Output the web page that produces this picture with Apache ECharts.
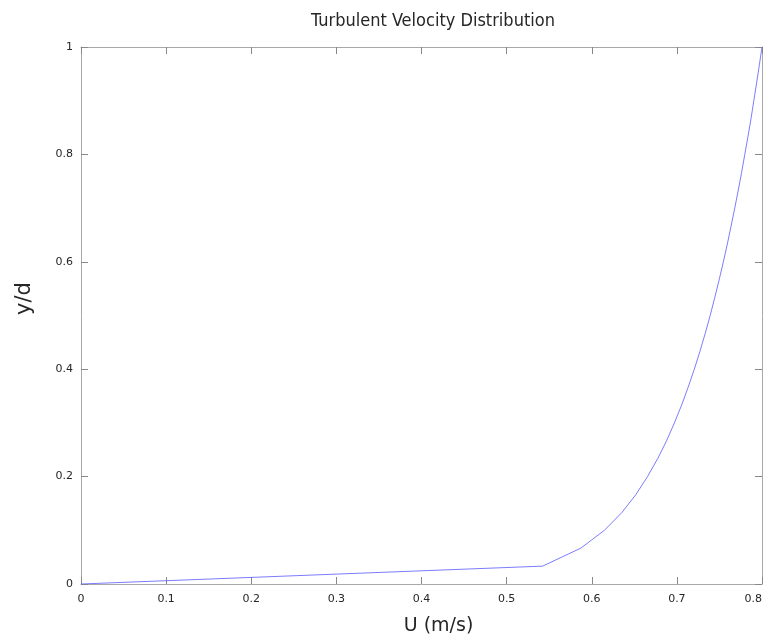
<!DOCTYPE html>
<html>
<head>
<meta charset="utf-8">
<script src="https://cdn.jsdelivr.net/npm/echarts@6/dist/echarts.min.js"></script>
<style>
  html, body { margin: 0; padding: 0; background: #fff; }
  #chart { width: 771px; height: 638px; }
</style>
</head>
<body>
<div id="chart"></div>
<script>
// y/d values (sampled every 1/30)
const yd = [0, 0.0333, 0.0667, 0.1, 0.1333, 0.1667, 0.2, 0.2333, 0.2667, 0.3, 0.3333,
  0.3667, 0.4, 0.4333, 0.4667, 0.5, 0.5333, 0.5667, 0.6, 0.6333, 0.6667,
  0.7, 0.7333, 0.7667, 0.8, 0.8333, 0.8667, 0.9, 0.9333, 0.9667, 1];
// velocity
const velocity = [0, 0.5423, 0.5871, 0.6149, 0.6355, 0.6519, 0.6655, 0.6774, 0.6879, 0.6971, 0.7056,
  0.7133, 0.7205, 0.7271, 0.7333, 0.7391, 0.7445, 0.7497, 0.7546, 0.7593, 0.7637,
  0.7680, 0.7721, 0.7761, 0.7798, 0.7835, 0.7871, 0.7904, 0.7937, 0.7969, 0.8];
const xTicks = [0, 0.1, 0.2, 0.3, 0.4, 0.5, 0.6, 0.7, 0.8];
const yTicks = [0, 0.2, 0.4, 0.6, 0.8, 1];

const font = 'DejaVu Sans';
const textColor = '#262626';
const boxColor = '#a8a8a8';

const chart = echarts.init(document.getElementById('chart'), null, { renderer: 'canvas' });

const baseX = {
  type: 'value', min: 0, max: 0.8, interval: 0.1,
  axisLine: { show: true, onZero: false, lineStyle: { color: boxColor, width: 1 } },
  axisTick: { show: true, inside: true, length: 7, lineStyle: { color: '#888' } },
  splitLine: { show: false }
};
const baseY = {
  type: 'value', min: 0, max: 1, interval: 0.2,
  axisLine: { show: true, onZero: false, lineStyle: { color: boxColor, width: 1 } },
  axisTick: { show: true, inside: true, length: 7, lineStyle: { color: '#888' } },
  splitLine: { show: false }
};

chart.setOption({
  animation: false,
  title: {
    text: 'Turbulent Velocity Distribution',
    left: 428, top: 7, textAlign: 'center',
    textStyle: { fontFamily: 'DejaVu Sans Condensed, DejaVu Sans', fontWeight: 'normal', fontSize: 18, color: textColor }
  },
  grid: { left: 81, right: 9, top: 47, bottom: 54, containLabel: false, outerBoundsMode: 'none' },
  xAxis: [
    Object.assign({}, baseX, {
      position: 'bottom',
      name: 'U (m/s)', nameLocation: 'middle', nameGap: 33,
      nameTextStyle: { fontFamily: font, fontSize: 19, color: textColor, padding: [0, 0, 0, 34] },
      axisLabel: {
        fontFamily: font, fontSize: 11, color: textColor, margin: 10,
        alignMaxLabel: 'right',
        formatter: v => xTicks.includes(+v.toFixed(1)) ? String(+v.toFixed(1)) : ''
      }
    }),
    Object.assign({}, baseX, { position: 'top', axisLabel: { show: false } })
  ],
  yAxis: [
    Object.assign({}, baseY, {
      position: 'left',
      name: 'y/d', nameLocation: 'middle', nameGap: 46,
      nameTextStyle: { fontFamily: font, fontSize: 21, color: textColor, padding: [0, 0, 0, 34] },
      axisLabel: {
        fontFamily: font, fontSize: 11, color: textColor, margin: 8,
        formatter: v => yTicks.includes(+v.toFixed(1)) ? String(+v.toFixed(1)) : ''
      }
    }),
    Object.assign({}, baseY, { position: 'right', axisLabel: { show: false } })
  ],
  series: [{
    type: 'line',
    xAxisIndex: 0, yAxisIndex: 0,
    data: velocity.map((u, i) => [u, yd[i]]),
    showSymbol: false,
    smooth: false,
    lineStyle: { color: '#5a5aff', width: 0.8 }
  }]
});
</script>
</body>
</html>
